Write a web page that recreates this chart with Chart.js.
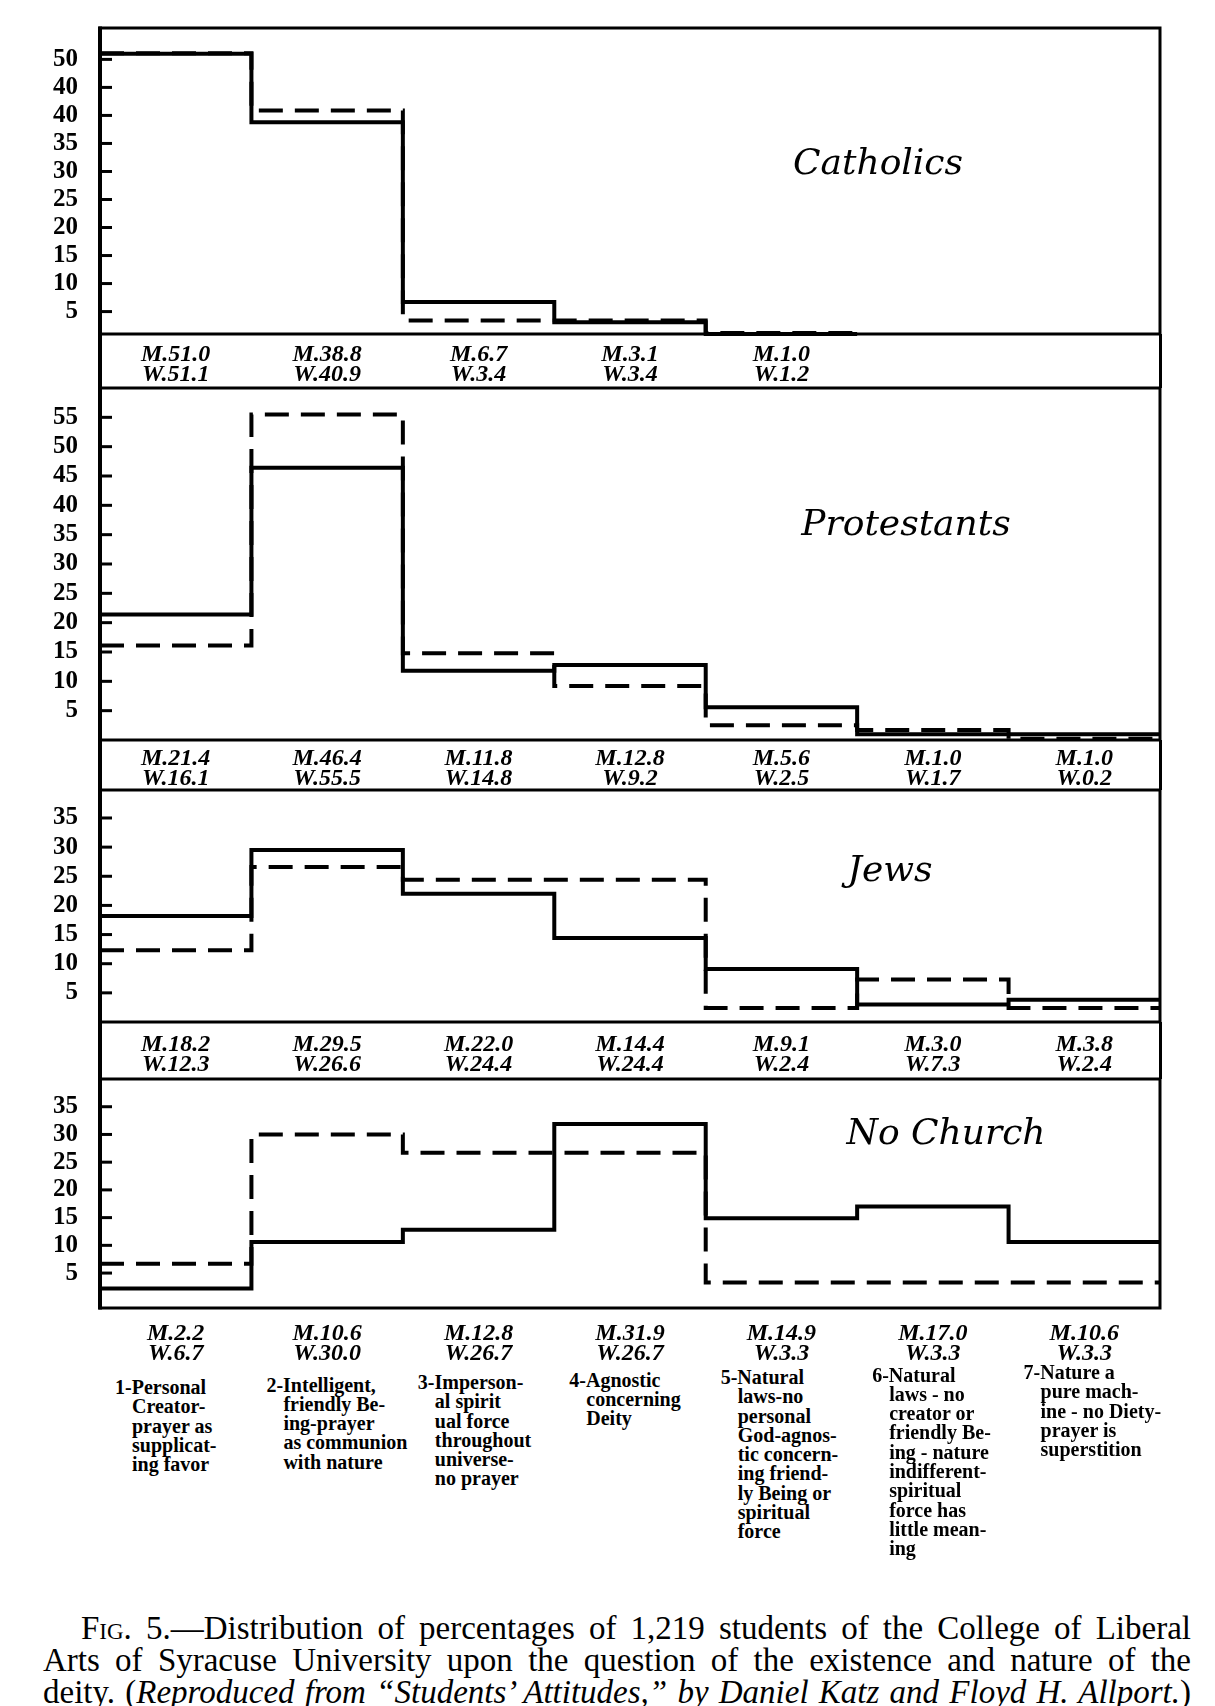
<!DOCTYPE html>
<html>
<head>
<meta charset="utf-8">
<script src="https://cdn.jsdelivr.net/npm/chart.js@4.4.0/dist/chart.umd.min.js"></script>
<style>
  html, body { margin: 0; padding: 0; background: #fff; }
  #page { position: relative; width: 1215px; height: 1706px; overflow: hidden; background: #fff; }
  canvas { position: absolute; left: 0; }
  .box { position: absolute; box-sizing: border-box; border-left: 4px solid #000; border-right: 3px solid #000; }
  .val { position: absolute; width: 140px; transform: translateX(-50%); text-align: center;
         font-family: 'Liberation Serif', serif; font-style: italic; font-weight: bold;
         font-size: 24px; line-height: 20px; color: #000; white-space: nowrap; }
  .title { position: absolute; transform: translate(-50%, -50%); white-space: nowrap;
           font-family: 'DejaVu Serif', serif; font-style: italic; font-size: 36px; color: #000; }
  .desc { position: absolute; font-family: 'Liberation Serif', serif; font-weight: bold;
          font-size: 20px; line-height: 19.3px; white-space: nowrap; color: #000; }
  .desc div { padding-left: 17px; }
  .desc div:first-child { padding-left: 0; }
  .caption { position: absolute; left: 43px; top: 1612px; width: 1148px; color: #000;
             font-family: 'Liberation Serif', serif; font-size: 33px; line-height: 32px; }
  .caption div { text-align: justify; text-align-last: justify; white-space: nowrap; }
</style>
</head>
<body>
<div id="page"></div>
<script>
// values read from the M./W. labels under each panel
const catholicsMen = [51.0, 38.8, 6.7, 3.1, 1.0];
const catholicsWomen = [51.1, 40.9, 3.4, 3.4, 1.2];
const protestantsMen = [21.4, 46.4, 11.8, 12.8, 5.6, 1.0, 1.0];
const protestantsWomen = [16.1, 55.5, 14.8, 9.2, 2.5, 1.7, 0.2];
const jewsMen = [18.2, 29.5, 22.0, 14.4, 9.1, 3.0, 3.8];
const jewsWomen = [12.3, 26.6, 24.4, 24.4, 2.4, 7.3, 2.4];
const noChurchMen = [2.2, 10.6, 12.8, 31.9, 14.9, 17.0, 10.6];
const noChurchWomen = [6.7, 30.0, 26.7, 26.7, 3.3, 3.3, 3.3];

// tick labels as printed (the Catholics axis really says 40 twice)
const catholicsTicks = ['5', '10', '15', '20', '25', '30', '35', '40', '40', '50'];
const protestantsTicks = ['5', '10', '15', '20', '25', '30', '35', '40', '45', '50', '55'];
const jewsTicks = ['5', '10', '15', '20', '25', '30', '35'];
const noChurchTicks = ['5', '10', '15', '20', '25', '30', '35'];

const categories = [
  ['1-Personal', 'Creator-', 'prayer as', 'supplicat-', 'ing favor'],
  ['2-Intelligent,', 'friendly Be-', 'ing-prayer', 'as communion', 'with nature'],
  ['3-Imperson-', 'al spirit', 'ual force', 'throughout', 'universe-', 'no prayer'],
  ['4-Agnostic', 'concerning', 'Deity'],
  ['5-Natural', 'laws-no', 'personal', 'God-agnos-', 'tic concern-', 'ing friend-', 'ly Being or', 'spiritual', 'force'],
  ['6-Natural', 'laws - no', 'creator or', 'friendly Be-', 'ing - nature', 'indifferent-', 'spiritual', 'force has', 'little mean-', 'ing'],
  ['7-Nature a', 'pure mach-', 'ine - no Diety-', 'prayer is', 'superstition']
];

const LEFT = 100, RIGHT = 1160, PAD = 16, NCOL = 7;
const colW = (RIGHT - LEFT) / NCOL;
const page = document.getElementById('page');

const panels = [
  { title: 'Catholics', men: catholicsMen, women: catholicsWomen, ticks: catholicsTicks,
    yMin: 1, yMax: 55.6, top: 28, bottom: 334, rowBottom: 388, tx: 878, ty: 161 },
  { title: 'Protestants', men: protestantsMen, women: protestantsWomen, ticks: protestantsTicks,
    yMin: 0, yMax: 60, top: 388, bottom: 740, rowBottom: 790, tx: 906, ty: 522 },
  { title: 'Jews', men: jewsMen, women: jewsWomen, ticks: jewsTicks,
    yMin: 0, yMax: 39.8, top: 790, bottom: 1022, rowBottom: 1079, tx: 890, ty: 868 },
  { title: 'No Church', men: noChurchMen, women: noChurchWomen, ticks: noChurchTicks,
    yMin: -1.3, yMax: 40, top: 1079, bottom: 1308, rowBottom: null, tx: 946, ty: 1131 }
];

const framePlugin = {
  id: 'frame',
  afterDraw(chart) {
    const { ctx, chartArea: a, scales: { y } } = chart;
    ctx.save();
    ctx.strokeStyle = '#000';
    ctx.lineWidth = 3;
    ctx.strokeRect(a.left, a.top, a.right - a.left, a.bottom - a.top);
    ctx.lineWidth = 4;
    ctx.beginPath();
    ctx.moveTo(a.left, a.top - 1.5);
    ctx.lineTo(a.left, a.bottom + 1.5);
    ctx.stroke();
    ctx.lineWidth = 3;
    y.ticks.forEach(t => {
      const py = y.getPixelForValue(t.value);
      ctx.beginPath();
      ctx.moveTo(a.left, py);
      ctx.lineTo(a.left + 12, py);
      ctx.stroke();
    });
    ctx.restore();
  }
};

function stepPoints(values) {
  const pts = values.map((v, i) => ({ x: i, y: v }));
  pts.push({ x: values.length, y: values[values.length - 1] });
  return pts;
}

function addDiv(cls, css, html) {
  const d = document.createElement('div');
  d.className = cls;
  Object.assign(d.style, css);
  d.innerHTML = html;
  page.appendChild(d);
  return d;
}

panels.forEach(p => {
  const cv = document.createElement('canvas');
  const h = p.bottom - p.top + 2 * PAD;
  cv.width = 1215;
  cv.height = h;
  cv.style.top = (p.top - PAD) + 'px';
  page.appendChild(cv);

  new Chart(cv, {
    type: 'line',
    data: {
      datasets: [
        { label: 'M', data: stepPoints(p.men), stepped: true, borderColor: '#000',
          borderWidth: 4, pointRadius: 0, clip: false },
        { label: 'W', data: stepPoints(p.women), stepped: true, borderColor: '#000',
          borderWidth: 4, borderDash: [24, 12], pointRadius: 0, clip: false }
      ]
    },
    options: {
      responsive: false,
      animation: false,
      layout: { padding: { top: PAD, bottom: PAD, left: 0, right: 1215 - RIGHT } },
      plugins: { legend: { display: false }, tooltip: { enabled: false } },
      scales: {
        x: { type: 'linear', min: 0, max: NCOL, display: false },
        y: {
          min: p.yMin, max: p.yMax,
          grid: { display: false, drawTicks: false },
          border: { display: false },
          afterFit(scale) {
            scale.width = LEFT;
            scale.paddingTop = 0;
            scale.paddingBottom = 0;
          },
          afterBuildTicks(scale) { scale.ticks = p.ticks.map((t, i) => ({ value: 5 * (i + 1) })); },
          ticks: {
            autoSkip: false, padding: 22, color: '#000',
            font: { family: 'Liberation Serif', weight: 'bold', size: 25 },
            callback: (v, i) => p.ticks[i]
          }
        }
      }
    },
    plugins: [framePlugin]
  });

  // value row under the panel
  let rowTop;
  if (p.rowBottom) {
    addDiv('box', { left: (LEFT - 2) + 'px', top: p.bottom + 'px',
                    width: (RIGHT - LEFT + 3.5) + 'px', height: (p.rowBottom - p.bottom) + 'px' }, '');
    rowTop = (p.bottom + p.rowBottom) / 2 - 18;
  } else {
    rowTop = 1322;
  }
  p.men.forEach((m, i) => {
    addDiv('val', { left: (LEFT + colW * (i + 0.5)) + 'px', top: rowTop + 'px' },
      'M.' + m.toFixed(1) + '<br>W.' + p.women[i].toFixed(1));
  });

  addDiv('title', { left: p.tx + 'px', top: p.ty + 'px' }, p.title);
});

categories.forEach((lines, i) => {
  addDiv('desc', { left: (LEFT + colW * i + 15) + 'px', top: (1378 - i * 2.5) + 'px' },
    lines.map(l => '<div>' + l + '</div>').join(''));
});

addDiv('caption', {},
  '<div style="margin-left:38px"><span style="font-variant:small-caps">Fig.</span> 5.—Distribution of percentages of 1,219 students of the College of Liberal</div>' +
  '<div>Arts of Syracuse University upon the question of the existence and nature of the</div>' +
  '<div>deity. (<i>Reproduced from “Students’ Attitudes,” by Daniel Katz and Floyd H. Allport.</i>)</div>');
</script>
</body>
</html>
